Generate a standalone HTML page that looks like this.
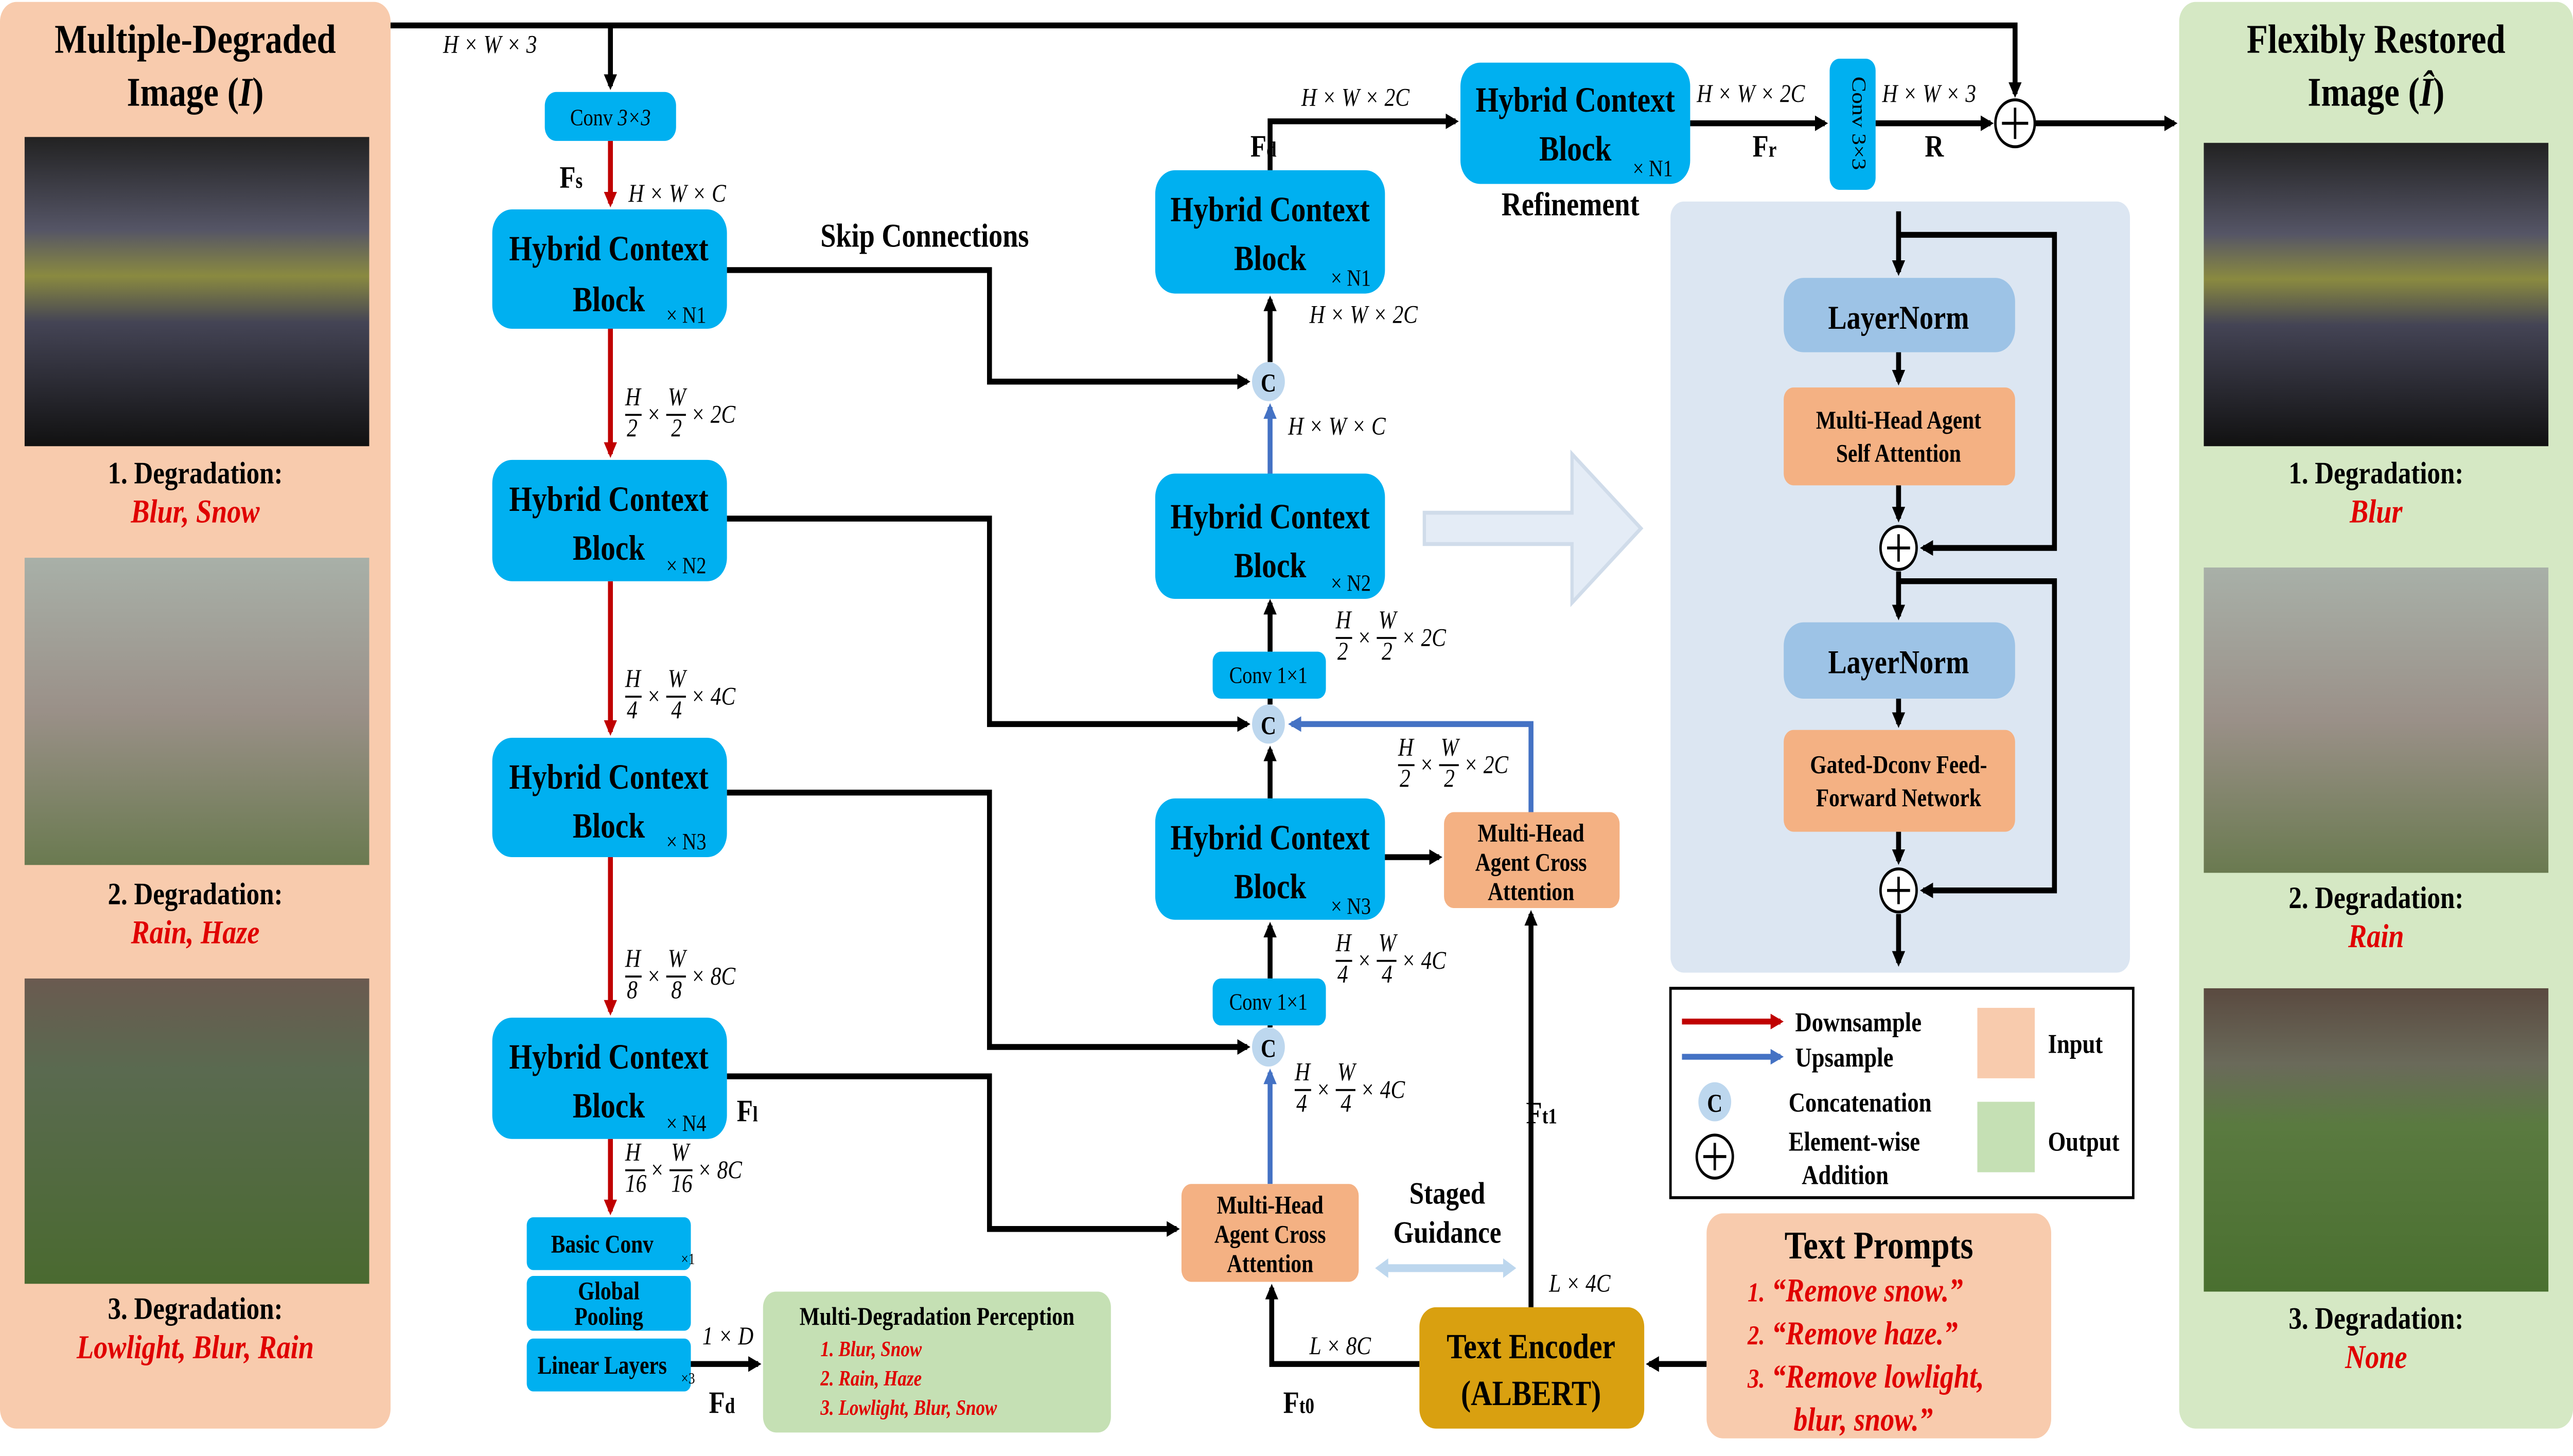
<!DOCTYPE html>
<html><head><meta charset="utf-8"><style>
html,body{margin:0;padding:0;background:#fff;width:100%;height:100%;overflow:hidden;}
svg{display:block;width:100vw;height:100vh;}
text{font-family:"Liberation Serif",serif;}
.b{font-weight:bold;}
.m{font-style:italic;font-size:13px;}
.h{font-size:19px;font-weight:bold;text-anchor:middle;}
.red{fill:#e00000;font-style:italic;font-weight:bold;}
</style></head><body>
<svg viewBox="0 0 1568 744" preserveAspectRatio="none" xmlns="http://www.w3.org/2000/svg">
<defs>
<marker id="ak" markerWidth="8" markerHeight="8" refX="6" refY="4" orient="auto" markerUnits="userSpaceOnUse"><path d="M0,0 L8,4 L0,8 z" fill="#000"/></marker>
<marker id="ar" markerWidth="8" markerHeight="8" refX="6" refY="4" orient="auto" markerUnits="userSpaceOnUse"><path d="M0,0 L8,4 L0,8 z" fill="#c00000"/></marker>
<marker id="ab" markerWidth="8" markerHeight="8" refX="6" refY="4" orient="auto" markerUnits="userSpaceOnUse"><path d="M0,0 L8,4 L0,8 z" fill="#4472c4"/></marker>
<linearGradient id="g1" x1="0" y1="0" x2="0" y2="1"><stop offset="0" stop-color="#222"/><stop offset="0.3" stop-color="#556"/><stop offset="0.45" stop-color="#8a8a40"/><stop offset="0.6" stop-color="#445"/><stop offset="1" stop-color="#111"/></linearGradient>
<linearGradient id="g2" x1="0" y1="0" x2="0" y2="1"><stop offset="0" stop-color="#a8b0a8"/><stop offset="0.5" stop-color="#9a9088"/><stop offset="1" stop-color="#6a7a50"/></linearGradient>
<linearGradient id="g3" x1="0" y1="0" x2="0" y2="1"><stop offset="0" stop-color="#6a5a50"/><stop offset="0.3" stop-color="#5a6a50"/><stop offset="1" stop-color="#4a6a30"/></linearGradient>
<linearGradient id="g4" x1="0" y1="0" x2="0" y2="1"><stop offset="0" stop-color="#5a4a40"/><stop offset="0.25" stop-color="#6a6a5a"/><stop offset="0.45" stop-color="#5a7a40"/><stop offset="1" stop-color="#4a7030"/></linearGradient>
</defs>

<!-- left panel -->
<rect x="0" y="1" width="238" height="729" rx="10" fill="#f8cbad"/>
<text x="119" y="27" class="h" style="font-size:21px">Multiple-Degraded</text>
<text x="119" y="54" class="h" style="font-size:21px">Image (<tspan font-style="italic">I</tspan>)</text>
<rect x="15" y="70" width="210" height="158" fill="url(#g1)"/>
<text x="119" y="247" class="h" style="font-size:16px">1. Degradation:</text>
<text x="119" y="267" class="red" text-anchor="middle" font-size="17">Blur, Snow</text>
<rect x="15" y="285" width="210" height="157" fill="url(#g2)"/>
<text x="119" y="462" class="h" style="font-size:16px">2. Degradation:</text>
<text x="119" y="482" class="red" text-anchor="middle" font-size="17">Rain, Haze</text>
<rect x="15" y="500" width="210" height="156" fill="url(#g3)"/>
<text x="119" y="674" class="h" style="font-size:16px">3. Degradation:</text>
<text x="119" y="694" class="red" text-anchor="middle" font-size="17">Lowlight, Blur, Rain</text>

<!-- right panel -->
<rect x="1328" y="1" width="240" height="729" rx="10" fill="#d5e8c4"/>
<text x="1448" y="27" class="h" style="font-size:21px">Flexibly Restored</text>
<text x="1448" y="54" class="h" style="font-size:21px">Image (<tspan font-style="italic">Î</tspan>)</text>
<rect x="1343" y="73" width="210" height="155" fill="url(#g1)"/>
<text x="1448" y="247" class="h" style="font-size:16px">1. Degradation:</text>
<text x="1448" y="267" class="red" text-anchor="middle" font-size="17">Blur</text>
<rect x="1343" y="290" width="210" height="156" fill="url(#g2)"/>
<text x="1448" y="464" class="h" style="font-size:16px">2. Degradation:</text>
<text x="1448" y="484" class="red" text-anchor="middle" font-size="17">Rain</text>
<rect x="1343" y="505" width="210" height="155" fill="url(#g4)"/>
<text x="1448" y="679" class="h" style="font-size:16px">3. Degradation:</text>
<text x="1448" y="699" class="red" text-anchor="middle" font-size="17">None</text>

<g stroke="#000" stroke-width="3" fill="none">
<path d="M238,13 H1228 V48" marker-end="url(#ak)"/>
<path d="M372,13 V44" marker-end="url(#ak)"/>
<path d="M443,138 H603 V195 H760" marker-end="url(#ak)"/>
<path d="M443,265 H603 V370 H760" marker-end="url(#ak)"/>
<path d="M443,405 H603 V535 H760" marker-end="url(#ak)"/>
<path d="M443,550 H603 V628 H717" marker-end="url(#ak)"/>
<path d="M774,525 V503" marker-end="url(#ak)"/>
<path d="M774,500 V473" marker-end="url(#ak)"/>
<path d="M843,438 H877" marker-end="url(#ak)"/>
<path d="M774,408 V383" marker-end="url(#ak)"/>
<path d="M774,360 V336" marker-end="url(#ak)"/>
<path d="M774,333 V308" marker-end="url(#ak)"/>
<path d="M774,185 V153" marker-end="url(#ak)"/>
<path d="M774,87 V62 H887" marker-end="url(#ak)"/>
<path d="M1030,63 H1112" marker-end="url(#ak)"/>
<path d="M1143,63 H1213" marker-end="url(#ak)"/>
<path d="M1240,63 H1325" marker-end="url(#ak)"/>
<path d="M421,697 H462" marker-end="url(#ak)"/>
<path d="M933,668 V467" marker-end="url(#ak)"/>
<path d="M865,697 H775 V658" marker-end="url(#ak)"/>
<path d="M1040,697 H1005" marker-end="url(#ak)"/>
</g>
<g stroke="#c00000" stroke-width="3" fill="none">
<path d="M372,72 V104" marker-end="url(#ar)"/>
<path d="M372,168 V232" marker-end="url(#ar)"/>
<path d="M372,297 V374" marker-end="url(#ar)"/>
<path d="M372,438 V517" marker-end="url(#ar)"/>
<path d="M372,582 V619" marker-end="url(#ar)"/>
</g>
<g stroke="#4472c4" stroke-width="3" fill="none">
<path d="M774,605 V548" marker-end="url(#ab)"/>
<path d="M774,242 V208" marker-end="url(#ab)"/>
<path d="M933,415 V370 H787" marker-end="url(#ab)"/>
</g>

<!-- blue boxes -->
<g fill="#00b0f0">
<rect x="332" y="47" width="80" height="25" rx="7"/>
<rect x="300" y="107" width="143" height="61" rx="12"/>
<rect x="300" y="235" width="143" height="62" rx="12"/>
<rect x="300" y="377" width="143" height="61" rx="12"/>
<rect x="300" y="520" width="143" height="62" rx="12"/>
<rect x="321" y="622" width="100" height="27" rx="4"/>
<rect x="321" y="652" width="100" height="28" rx="4"/>
<rect x="321" y="684" width="100" height="27" rx="4"/>
<rect x="704" y="87" width="140" height="63" rx="12"/>
<rect x="704" y="242" width="140" height="64" rx="12"/>
<rect x="704" y="408" width="140" height="62" rx="12"/>
<rect x="739" y="333" width="69" height="24" rx="5"/>
<rect x="739" y="500" width="69" height="24" rx="5"/>
<rect x="890" y="32" width="140" height="62" rx="12"/>
<rect x="1115" y="30" width="28" height="67" rx="6"/>
</g>
<text x="372" y="64" text-anchor="middle" font-size="12">Conv <tspan font-style="italic">3×3</tspan></text>
<g class="b" font-size="18" text-anchor="middle">
<text x="371" y="133">Hybrid Context</text><text x="371" y="159">Block</text>
<text x="371" y="261">Hybrid Context</text><text x="371" y="286">Block</text>
<text x="371" y="403">Hybrid Context</text><text x="371" y="428">Block</text>
<text x="371" y="546">Hybrid Context</text><text x="371" y="571">Block</text>
<text x="774" y="113">Hybrid Context</text><text x="774" y="138">Block</text>
<text x="774" y="270">Hybrid Context</text><text x="774" y="295">Block</text>
<text x="774" y="434">Hybrid Context</text><text x="774" y="459">Block</text>
<text x="960" y="57">Hybrid Context</text><text x="960" y="82">Block</text>
</g>
<g font-size="12">
<text x="406" y="165">× N1</text><text x="406" y="293">× N2</text><text x="406" y="434">× N3</text><text x="406" y="578">× N4</text>
<text x="811" y="146">× N1</text><text x="811" y="302">× N2</text><text x="811" y="467">× N3</text><text x="995" y="90">× N1</text>
<text x="773" y="349" text-anchor="middle">Conv 1×1</text>
<text x="773" y="516" text-anchor="middle">Conv 1×1</text>
</g>
<text x="1129" y="63" font-size="12" text-anchor="middle" transform="rotate(90 1129 63)">Conv 3×3</text>
<g font-size="13" class="b" text-anchor="middle">
<text x="367" y="640">Basic Conv</text>
<text x="371" y="664">Global</text>
<text x="371" y="677">Pooling</text>
<text x="367" y="702">Linear Layers</text>
</g>
<text x="415" y="646" font-size="8">×1</text><text x="415" y="707" font-size="8">×3</text>

<!-- green perception -->
<rect x="465" y="660" width="212" height="72" rx="8" fill="#c5e0b4"/>
<text x="571" y="677" text-anchor="middle" font-size="13" class="b">Multi-Degradation Perception</text>
<text x="500" y="693" class="red" font-size="11">1. Blur, Snow</text>
<text x="500" y="708" class="red" font-size="11">2. Rain, Haze</text>
<text x="500" y="723" class="red" font-size="11">3. Lowlight, Blur, Snow</text>

<!-- orange attention -->
<rect x="720" y="605" width="108" height="50" rx="6" fill="#f4b183"/>
<g font-size="13" class="b" text-anchor="middle"><text x="774" y="620">Multi-Head</text><text x="774" y="635">Agent Cross</text><text x="774" y="650">Attention</text></g>
<rect x="880" y="415" width="107" height="49" rx="6" fill="#f4b183"/>
<g font-size="13" class="b" text-anchor="middle"><text x="933" y="430">Multi-Head</text><text x="933" y="445">Agent Cross</text><text x="933" y="460">Attention</text></g>

<!-- C circles -->
<g fill="#bdd7ee">
<circle cx="773" cy="195" r="10"/><circle cx="773" cy="370" r="10"/><circle cx="773" cy="535" r="10"/>
</g>
<g font-size="13" class="b" text-anchor="middle"><text x="773" y="200">C</text><text x="773" y="375">C</text><text x="773" y="540">C</text></g>
<circle cx="1228" cy="63" r="12" fill="#fff" stroke="#000" stroke-width="1.5"/>
<path d="M1220,63 H1236 M1228,55 V71" stroke="#000" stroke-width="1.5"/>

<!-- labels -->
<g class="m">
<text x="270" y="27">H × W × 3</text>
<text x="383" y="103">H × W × C</text>
<text x="793" y="54">H × W × 2C</text>
<text x="798" y="165">H × W × 2C</text>
<text x="785" y="222">H × W × C</text>
<text x="1034" y="52">H × W × 2C</text>
<text x="1147" y="52">H × W × 3</text>
<text x="944" y="660">L × 4C</text>
<text x="798" y="692">L × 8C</text>
<text x="428" y="687">1 × D</text>
</g>
<g class="b" font-size="16">
<text x="341" y="96">F<tspan font-size="11">s</tspan></text>
<text x="449" y="573">F<tspan font-size="11">l</tspan></text>
<text x="432" y="722">F<tspan font-size="11">d</tspan></text>
<text x="762" y="80">F<tspan font-size="11">d</tspan></text>
<text x="1068" y="80">F<tspan font-size="11">r</tspan></text>
<text x="1173" y="80">R</text>
<text x="930" y="574">F<tspan font-size="11">t1</tspan></text>
<text x="782" y="722">F<tspan font-size="11">t0</tspan></text>
<text x="500" y="126" font-size="17">Skip Connections</text>
<text x="915" y="110" font-size="17">Refinement</text>
<text x="882" y="615" text-anchor="middle">Staged</text>
<text x="882" y="635" text-anchor="middle">Guidance</text>
</g>
<path d="M842,648 H920" stroke="#bdd7ee" stroke-width="4"/>
<path d="M838,648 l8,-5 v10 z M924,648 l-8,-5 v10 z" fill="#bdd7ee"/>

<!-- fractions -->
<g class="m">
<g transform="translate(381,212)"><text x="0" y="-5">H</text><line x1="0" x2="10" y1="0" y2="0" stroke="#000"/><text x="1" y="11">2</text><text x="13" y="4">×</text><text x="26" y="-5">W</text><line x1="25" x2="37" y1="0" y2="0" stroke="#000"/><text x="28" y="11">2</text><text x="40" y="4">× 2C</text></g>
<g transform="translate(381,356)"><text x="0" y="-5">H</text><line x1="0" x2="10" y1="0" y2="0" stroke="#000"/><text x="1" y="11">4</text><text x="13" y="4">×</text><text x="26" y="-5">W</text><line x1="25" x2="37" y1="0" y2="0" stroke="#000"/><text x="28" y="11">4</text><text x="40" y="4">× 4C</text></g>
<g transform="translate(381,499)"><text x="0" y="-5">H</text><line x1="0" x2="10" y1="0" y2="0" stroke="#000"/><text x="1" y="11">8</text><text x="13" y="4">×</text><text x="26" y="-5">W</text><line x1="25" x2="37" y1="0" y2="0" stroke="#000"/><text x="28" y="11">8</text><text x="40" y="4">× 8C</text></g>
<g transform="translate(381,598)"><text x="0" y="-5">H</text><line x1="0" x2="12" y1="0" y2="0" stroke="#000"/><text x="0" y="11">16</text><text x="15" y="4">×</text><text x="28" y="-5">W</text><line x1="27" x2="41" y1="0" y2="0" stroke="#000"/><text x="28" y="11">16</text><text x="44" y="4">× 8C</text></g>
<g transform="translate(814,326)"><text x="0" y="-5">H</text><line x1="0" x2="10" y1="0" y2="0" stroke="#000"/><text x="1" y="11">2</text><text x="13" y="4">×</text><text x="26" y="-5">W</text><line x1="25" x2="37" y1="0" y2="0" stroke="#000"/><text x="28" y="11">2</text><text x="40" y="4">× 2C</text></g>
<g transform="translate(852,391)"><text x="0" y="-5">H</text><line x1="0" x2="10" y1="0" y2="0" stroke="#000"/><text x="1" y="11">2</text><text x="13" y="4">×</text><text x="26" y="-5">W</text><line x1="25" x2="37" y1="0" y2="0" stroke="#000"/><text x="28" y="11">2</text><text x="40" y="4">× 2C</text></g>
<g transform="translate(814,491)"><text x="0" y="-5">H</text><line x1="0" x2="10" y1="0" y2="0" stroke="#000"/><text x="1" y="11">4</text><text x="13" y="4">×</text><text x="26" y="-5">W</text><line x1="25" x2="37" y1="0" y2="0" stroke="#000"/><text x="28" y="11">4</text><text x="40" y="4">× 4C</text></g>
<g transform="translate(789,557)"><text x="0" y="-5">H</text><line x1="0" x2="10" y1="0" y2="0" stroke="#000"/><text x="1" y="11">4</text><text x="13" y="4">×</text><text x="26" y="-5">W</text><line x1="25" x2="37" y1="0" y2="0" stroke="#000"/><text x="28" y="11">4</text><text x="40" y="4">× 4C</text></g>
</g>

<!-- big arrow -->
<path d="M868,262 H958 V232 L1000,270 L958,308 V278 H868 z" fill="#e4ecf6" stroke="#d0dcea" stroke-width="2"/>

<!-- expanded panel -->
<rect x="1018" y="103" width="280" height="394" rx="8" fill="#dce6f2"/>
<g stroke="#000" stroke-width="3" fill="none">
<path d="M1157,108 V139" marker-end="url(#ak)"/>
<path d="M1157,120 H1252 V280 H1172" marker-end="url(#ak)"/>
<path d="M1157,180 V195" marker-end="url(#ak)"/>
<path d="M1157,248 V265" marker-end="url(#ak)"/>
<path d="M1157,292 V315" marker-end="url(#ak)"/>
<path d="M1157,297 H1252 V455 H1172" marker-end="url(#ak)"/>
<path d="M1157,357 V370" marker-end="url(#ak)"/>
<path d="M1157,425 V440" marker-end="url(#ak)"/>
<path d="M1157,467 V492" marker-end="url(#ak)"/>
</g>
<rect x="1087" y="142" width="141" height="38" rx="12" fill="#9dc3e6"/>
<rect x="1087" y="318" width="141" height="39" rx="12" fill="#9dc3e6"/>
<rect x="1087" y="198" width="141" height="50" rx="6" fill="#f4b183"/>
<rect x="1087" y="373" width="141" height="52" rx="6" fill="#f4b183"/>
<g class="b" text-anchor="middle">
<text x="1157" y="168" font-size="17">LayerNorm</text>
<text x="1157" y="344" font-size="17">LayerNorm</text>
<text x="1157" y="219" font-size="13">Multi-Head Agent</text><text x="1157" y="236" font-size="13">Self Attention</text>
<text x="1157" y="395" font-size="13">Gated-Dconv Feed-</text><text x="1157" y="412" font-size="13">Forward Network</text>
</g>
<g fill="#fff" stroke="#000" stroke-width="1.5"><circle cx="1157" cy="280" r="11"/><circle cx="1157" cy="455" r="11"/></g>
<g stroke="#000" stroke-width="1.5"><path d="M1150,280 H1164 M1157,273 V287 M1150,455 H1164 M1157,448 V462"/></g>

<!-- legend -->
<rect x="1018" y="505" width="282" height="107" fill="#fff" stroke="#000" stroke-width="1.5"/>
<path d="M1025,522 H1085" stroke="#c00000" stroke-width="3" marker-end="url(#ar)"/>
<path d="M1025,540 H1085" stroke="#4472c4" stroke-width="3" marker-end="url(#ab)"/>
<circle cx="1045" cy="563" r="10" fill="#bdd7ee"/>
<text x="1045" y="568" font-size="13" class="b" text-anchor="middle">C</text>
<circle cx="1045" cy="591" r="11" fill="#fff" stroke="#000" stroke-width="1.5"/>
<path d="M1038,591 H1052 M1045,584 V598" stroke="#000" stroke-width="1.5"/>
<g class="b" font-size="14">
<text x="1094" y="527">Downsample</text><text x="1094" y="545">Upsample</text>
<text x="1090" y="568">Concatenation</text><text x="1090" y="588">Element-wise</text><text x="1098" y="605">Addition</text>
<text x="1248" y="538">Input</text><text x="1248" y="588">Output</text>
</g>
<rect x="1205" y="515" width="35" height="36" fill="#f8cbad"/>
<rect x="1205" y="563" width="35" height="36" fill="#c5e0b4"/>

<!-- text prompts -->
<rect x="1040" y="620" width="210" height="115" rx="10" fill="#f8cbad"/>
<text x="1145" y="643" class="h" style="font-size:20px">Text Prompts</text>
<text x="1065" y="665" class="red" font-size="17"><tspan font-size="14">1.</tspan>  “Remove snow.”</text>
<text x="1065" y="687" class="red" font-size="17"><tspan font-size="14">2.</tspan>  “Remove haze.”</text>
<text x="1065" y="709" class="red" font-size="17"><tspan font-size="14">3.</tspan>  “Remove lowlight,</text>
<text x="1093" y="731" class="red" font-size="17">blur, snow.”</text>

<!-- text encoder -->
<rect x="865" y="668" width="137" height="62" rx="10" fill="#d9a010"/>
<text x="933" y="694" class="h" style="font-size:18px">Text Encoder</text>
<text x="933" y="718" class="h" style="font-size:18px">(ALBERT)</text>
</svg>
</body></html>
